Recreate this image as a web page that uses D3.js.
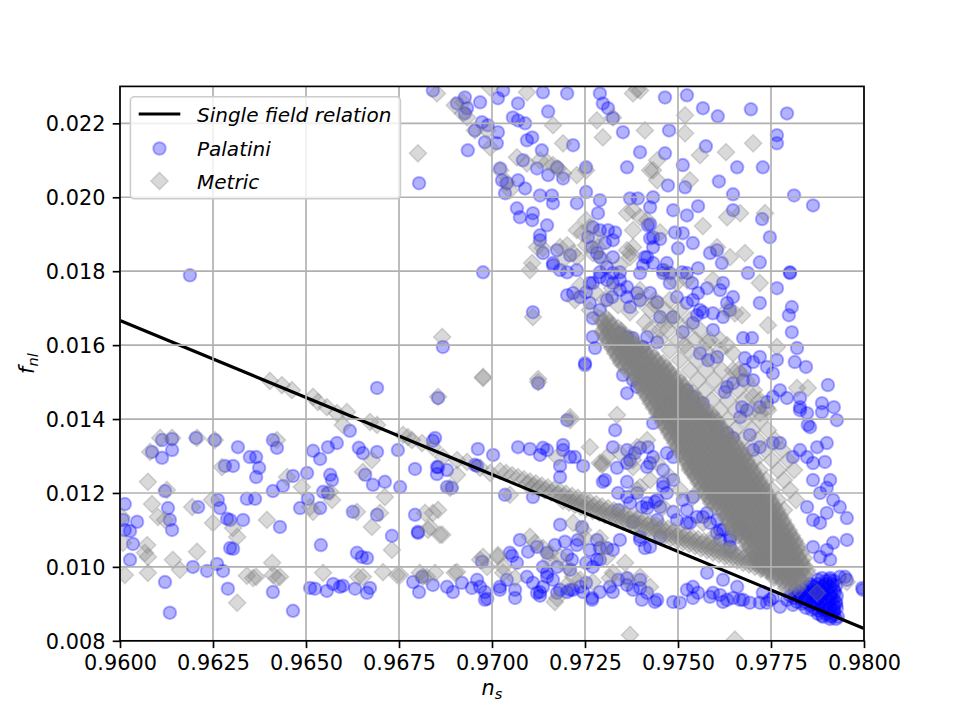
<!DOCTYPE html>
<html><head><meta charset="utf-8">
<script src="https://cdn.jsdelivr.net/npm/d3@7"></script>
<style>body{margin:0;background:#fff;}svg{display:block;font-family:"DejaVu Sans",sans-serif;}</style>
</head><body><svg id="chart" width="960" height="720"></svg>
<script>
const xTicks=[0.96,0.9625,0.965,0.9675,0.97,0.9725,0.975,0.9775,0.98];
const yTicks=[0.008,0.010,0.012,0.014,0.016,0.018,0.020,0.022];
const singleFieldNs=[0.96,0.965,0.97,0.975,0.98];
const singleFieldFnl=[0.016667,0.014583,0.0125,0.010417,0.008333];
const seriesNames=["Single field relation","Palatini","Metric"];

const palatiniLeft=[[.96188,.01789],[.96691,.01484],[.96113,.01343],[.96086,.01311],[.96140,.01346],[.96113,.01295],[.96140,.01316],[.96204,.01349],[.96255,.01343],[.96317,.01324],[.96349,.01297],[.96366,.01297],[.96282,.01273],[.96304,.01273],[.96374,.01268],[.96366,.01243],[.96411,.01343],[.96422,.01322],[.96411,.01205],[.96438,.01219],[.96465,.01246],[.96503,.01254],[.96519,.01314],[.96538,.01292],[.96559,.01324],[.96583,.01335],[.96565,.01249],[.96570,.01235],[.96546,.01203],[.96559,.01200],[.96618,.01368],[.96642,.01322],[.96653,.01308],[.96659,.01249],[.96691,.01311],[.96680,.01222],[.96712,.01230],[.96747,.01316],
[.96013,.01170],[.96008,.01127],[.96013,.01100],[.96027,.01097],[.96046,.01122],[.96035,.01062],[.96027,.01019],[.96121,.01205],[.96129,.01159],[.96134,.01127],[.96140,.01100],[.96210,.01162],[.96263,.01181],[.96269,.01159],[.96288,.01130],[.96296,.01127],[.96331,.01127],[.96341,.01184],[.96363,.01184],[.96430,.01108],[.96296,.01051],[.96304,.01049],[.96484,.01159],[.96505,.01184],[.96538,.01159],[.96540,.01059],[.96626,.01149],[.96691,.01141],[.96637,.01038],[.96650,.01027],[.96664,.01024],[.96731,.01084],
[.96121,.00959],[.96134,.00876],[.96196,.01000],[.96234,.00989],[.96261,.01008],[.96277,.00989],[.96290,.00941],[.96411,.00932],[.96465,.00881],[.96511,.00943],[.96524,.00941],[.96556,.00935],[.96573,.00954],[.96591,.00946],[.96599,.00949],[.96632,.00941],[.96664,.00930],[.96672,.00943]];

const palatiniMid=[[.96855,.01457],[.97124,.01497],[.97202,.01397],[.96847,.01349],[.96852,.01270],[.96852,.01251],[.96879,.01262],[.96879,.01216],[.96892,.01214],[.96962,.01319],[.97003,.01303],[.96960,.01273],[.97035,.01195],[.97070,.01324],[.97102,.01319],[.97137,.01322],[.97148,.01316],[.97129,.01303],[.97191,.01316],[.97183,.01273],[.97183,.01243],[.97110,.01189],[.97183,.01114],[.96841,.01341],[.96855,.01270],[.96793,.01265],[.96753,.01216],[.96954,.01276],[.97223,.01297],[.97245,.01273],[.97242,.01108],[.96793,.01141],[.96801,.01095],[.96801,.01092],
[.97075,.01073],[.97097,.01041],[.97121,.01054],[.97148,.01038],[.97169,.01059],[.97196,.01068],[.97228,.01059],[.97231,.01073],[.97048,.01038],[.97067,.01011],[.97137,.01000],[.97148,.00984],[.97175,.01000],[.97202,.01032],[.97215,.01019],[.97210,.00992],[.97253,.01011],[.97271,.01000],[.97282,.01019],[.97290,.01019],[.97054,.01030],[.96973,.01014],
[.96788,.00959],[.96804,.00932],[.96812,.00973],[.96841,.00951],[.96879,.00946],[.96895,.00932],[.96919,.00957],[.96946,.00943],[.96960,.00965],[.96968,.00946],[.96981,.00932],[.96981,.00911],[.96987,.00914],[.97021,.00946],[.97021,.00938],[.97040,.00965],[.97062,.00938],[.97062,.00916],[.97094,.00973],[.97110,.00957],[.97121,.00930],[.97129,.00932],[.97137,.00946],[.97148,.00973],[.97164,.00965],[.97175,.00930],[.97202,.00932],[.97218,.00938],[.97237,.00946],[.97245,.00932],[.97253,.00957],[.97269,.00916],[.97129,.00922],
[.96868,.01595],[.97110,.01689],[.97250,.01551],[.96976,.01797],[.96804,.02038]];

const palatiniLowerRight=[[.97290,.00932],[.97317,.00946],[.97325,.00932],[.97379,.00938],[.97398,.00943],[.97403,.00911],[.97438,.00905],[.97339,.00965],[.97363,.00970],[.97183,.00938],[.97210,.00938],[.97269,.00911],[.97363,.00951],[.97444,.00911],[.97487,.00905],[.97505,.00903],[.97540,.00916],[.97554,.00930],[.97594,.00930],[.97621,.00905],[.97648,.00916],[.97675,.00911],[.97693,.00903],[.97720,.00903],[.97728,.00930],[.97747,.00911],[.97774,.00892],[.97793,.00911],[.97809,.00897],[.97417,.00930],[.97524,.00938],[.97540,.00946],[.97578,.00984],[.97621,.00965],[.97659,.00946],[.97586,.00919],[.97613,.00924],[.97632,.00911],[.97667,.00911],[.97739,.00903],[.97755,.00916],[.97949,.00973],[.97995,.00943],[.97398,.00965],
[.97903,.01492],[.97887,.01443],[.97919,.01432],[.97927,.01397],[.97828,.01432],[.97847,.01416],[.97793,.01457],[.97774,.01478],[.97855,.01378],[.97900,.01335],[.97895,.01284],[.97874,.01324],[.97847,.01297],[.97863,.01281],[.97909,.01235],[.97900,.01214],[.97917,.01181],[.97935,.01162],[.97954,.01132],[.97863,.01235],[.97882,.01200],[.97847,.01162],[.97900,.01146],[.97882,.01119],[.97863,.01127],[.97954,.01073],[.97917,.01065],[.97900,.01046],[.97909,.01019],[.97935,.00973],[.97954,.00965],[.97863,.01054],[.97882,.01027],[.97997,.00938]];

const palatiniBandEdge=[[.97801,.01795],[.97766,.01754],[.97806,.01703],[.97798,.01681],[.97806,.01635],[.97820,.01592],[.97814,.01554],[.97844,.01541],[.97887,.01419],[.97849,.01384],[.97828,.01457],[.97828,.01424],[.97720,.01714],[.97688,.01795],[.97766,.01560],[.97755,.01524],[.97739,.01541],[.97720,.01568],[.97702,.01554],[.97699,.01619],[.97675,.01619],[.97680,.01565],[.97680,.01532],[.97675,.01505],[.97702,.01505],[.97755,.01460],[.97720,.01432],[.97739,.01446],[.97672,.01432],[.97685,.01424],[.97667,.01405],[.97632,.01487],[.97626,.01473],[.97648,.01497],[.97605,.01568],
[.97621,.01768],[.97613,.01749],[.97648,.01730],[.97632,.01714],[.97640,.01695],[.97621,.01676],[.97594,.01641],[.97567,.01689],[.97551,.01681],[.97594,.01686],[.97524,.01714],[.97540,.01722],[.97554,.01741],[.97578,.01754],[.97538,.01768],[.97524,.01795],[.97478,.01795],[.97460,.01795],[.97478,.01768],[.97497,.01730],[.97487,.01676],[.97513,.01635],[.97559,.01578],[.97581,.01559],[.97417,.01622],[.97444,.01608],[.97406,.01595],[.97379,.01619],[.97363,.01622],[.97344,.01632],[.97452,.01676],[.97444,.01716],[.97425,.01741],[.97398,.01722],[.97371,.01703],[.97363,.01730],[.97344,.01749],[.97325,.01768],[.97309,.01776],[.97290,.01784],[.97271,.01768],[.97253,.01743],[.97237,.01730],[.97202,.01735],[.97277,.01592],[.97250,.01546],
[.97331,.01370],[.97191,.01330],[.97210,.01297],[.97325,.01324],[.97363,.01316],[.97384,.01308],[.97419,.01324],[.97433,.01297],[.97470,.01308],[.97425,.01281],[.97363,.01281],[.97433,.01389],[.97452,.01416],[.97478,.01443],[.97524,.01478],[.97540,.01460],[.97567,.01443],[.97573,.01405],[.97605,.01378],[.97632,.01362],[.97648,.01349],[.97693,.01357],[.97702,.01316],[.97720,.01324],[.97755,.01335],[.97774,.01335],[.97809,.01297],[.97828,.01316],[.97559,.01695],[.97540,.01660],[.97352,.01519],[.97379,.01505],[.97390,.01487],[.97363,.01470],[.97271,.01622],[.97263,.01714],[.97271,.01673],[.97290,.01695],[.97309,.01722],[.97323,.01730],[.97344,.01776],[.97363,.01757],[.97390,.01741],[.97417,.01838],[.97433,.01822],[.97137,.01849],[.97164,.01816],[.97183,.01803],[.97218,.01741],[.97263,.01768],
[.97417,.01270],[.97460,.01262],[.97487,.01297],[.97487,.01235],[.97460,.01216],[.97417,.01173],[.97452,.01162],[.97487,.01149],[.97524,.01154],[.97497,.01127],[.97532,.01119],[.97551,.01135],[.97578,.01146],[.97605,.01127],[.97621,.01100],[.97640,.01081],[.97667,.01108],[.97685,.01092],[.97605,.01092],[.97613,.01073],[.97640,.01054],[.97398,.01073],[.97425,.01054],[.97452,.01081],[.97298,.01230],[.97339,.01200],[.97371,.01173],[.97403,.01162],[.97339,.01154],[.97379,.01122],[.97444,.01181],[.97460,.01227],[.97470,.01200],[.97513,.01181],[.97540,.01189],[.97524,.01119],[.97567,.01135],[.97586,.01119],[.97613,.01100],[.97640,.01073],[.97304,.01235],[.97398,.01322],[.97336,.01268],[.97371,.01289],[.97363,.01230],[.97390,.01200],[.97363,.01189],[.97417,.01159],[.97438,.01176],[.97444,.01127],[.97344,.01073],[.97325,.01046],[.97309,.01051],[.97282,.01073],[.97290,.01051],[.97263,.01046],[.97411,.01051],[.97398,.01081]];

const palatiniUpper=[[.97465,.02270],[.97524,.02276],[.97567,.02241],[.97607,.02219],[.97696,.02238],[.97793,.02227],[.97476,.02181],[.97766,.02168],[.97766,.02146],[.97575,.02138],[.97513,.02087],[.97465,.02119],[.97398,.02122],[.97659,.02081],[.97728,.02081],[.97610,.02043],[.97648,.02008],[.97812,.02005],[.97863,.01978],[.97648,.01965],[.97726,.01941],[.97747,.01892],[.97519,.02027],[.97524,.01951],[.97554,.01976],[.97473,.02032],[.97487,.01965],[.97433,.02000],[.97425,.01973],[.97425,.01927],[.97433,.01892],[.97452,.01887],[.97492,.01905],[.97513,.01903],[.97540,.01876],[.97500,.01862],[.97586,.01849],[.97605,.01857],[.97618,.01822],[.97720,.01824],[.97801,.01797],[.97554,.01808],[.97470,.01822],[.97460,.01803],[.97511,.01797],
[.96841,.02289],[.96906,.02254],[.96927,.02270],[.96933,.02241],[.96927,.02227],[.96968,.02257],[.97016,.02268],[.97030,.02289],[.97070,.02254],[.97137,.02284],[.97151,.02232],[.97202,.02281],[.96954,.02181],[.96973,.02203],[.96989,.02195],[.96981,.02149],[.97016,.02176],[.97013,.02146],[.97056,.02216],[.97070,.02208],[.97089,.02200],[.97094,.02154],[.97108,.02162],[.96935,.02127],[.97083,.02100],[.97121,.02078],[.97134,.02127],[.97151,.02060],[.97175,.02081],[.97191,.02051],[.97218,.02141],[.97253,.02081],[.97022,.02078],[.97027,.02046],[.97040,.02038],[.97035,.02011],[.97070,.02046],[.97089,.02024],[.97129,.02005],[.97161,.02005],[.97164,.01984],[.97228,.01984],[.97253,.02014],[.97067,.01970],[.97075,.01946],[.97110,.01957],[.97108,.01938],[.97148,.01924],[.97129,.01897],[.97129,.01884],[.97175,.01857],[.97210,.01843],[.97164,.01822],[.97202,.01797],[.97228,.01803],[.97290,.02281],[.97298,.02254],[.97312,.02241],[.97325,.02214],[.97352,.02176],[.97363,.02081],[.97290,.01992],[.97371,.01997],[.97392,.01997],[.97285,.01957],[.97271,.01919],[.97290,.01911],[.97312,.01911],[.97331,.01905],[.97325,.01884],[.97304,.01876],[.97258,.01892],[.97269,.01865],[.97282,.01849],[.97290,.01838],[.97325,.01838],[.97309,.01811],[.97325,.01795],[.97344,.01797],[.97290,.01797],[.97419,.01924],[.97425,.01889],[.97433,.01865],[.97411,.01838],[.97406,.01816],[.97398,.01795]];

const palatiniCluster=[[.97887,.00970],[.97909,.00970],[.97898,.00962],[.97919,.00962],[.97855,.00954],[.97876,.00954],[.97898,.00954],[.97917,.00954],[.97844,.00946],[.97865,.00946],[.97887,.00946],[.97909,.00946],[.97814,.00938],[.97836,.00938],[.97857,.00938],[.97879,.00938],[.97900,.00938],[.97919,.00938],[.97825,.00930],[.97847,.00930],[.97868,.00930],[.97890,.00930],[.97911,.00930],[.97801,.00922],[.97822,.00922],[.97844,.00922],[.97865,.00922],[.97887,.00922],[.97909,.00922],[.97927,.00922],[.97831,.00914],[.97852,.00914],[.97874,.00914],[.97895,.00914],[.97917,.00914],[.97820,.00905],[.97841,.00905],[.97863,.00905],[.97884,.00905],[.97906,.00905],[.97925,.00905],[.97855,.00897],[.97876,.00897],[.97898,.00897],[.97919,.00897],[.97844,.00889],[.97865,.00889],[.97887,.00889],[.97909,.00889],[.97927,.00889],[.97879,.00881],[.97900,.00881],[.97919,.00881],[.97876,.00873],[.97898,.00873],[.97919,.00873],[.97890,.00865],[.97911,.00865],[.97930,.00865],[.97909,.00859],[.97925,.00859],
[.97876,.00965],[.97909,.00965],[.97860,.00949],[.97892,.00949],[.97925,.00949],[.97825,.00932],[.97857,.00932],[.97890,.00932],[.97922,.00932],[.97812,.00916],[.97844,.00916],[.97876,.00916],[.97909,.00916],[.97833,.00900],[.97865,.00900],[.97898,.00900],[.97925,.00900],[.97860,.00884],[.97892,.00884],[.97919,.00884],[.97887,.00868],[.97914,.00868]];

const metricScattered=[[.96403,.01503],[.96435,.01492],[.96462,.01478],[.96519,.01460],[.96532,.01446],[.96556,.01432],[.96583,.01416],[.96610,.01419],[.96599,.01384],[.96672,.01392],[.96691,.01384],[.96761,.01357],[.96774,.01351],[.96785,.01343],[.96812,.01335],[.96841,.01324],[.96868,.01297],[.96906,.01289],[.96933,.01284],[.96976,.01514],[.97124,.01508],[.96968,.01268],[.96995,.01254],[.96081,.01311],[.96108,.01349],[.96140,.01349],[.96207,.01349],[.96255,.01343],[.96075,.01230],[.96086,.01170],[.96102,.01135],[.96121,.01127],[.96126,.01208],[.96005,.01135],[.96008,.01065],[.96073,.01059],[.96067,.01038],[.96075,.01027],[.96013,.00978],[.96075,.00984],[.96142,.01019],[.96161,.00992],[.96194,.01162],[.96207,.01041],[.96247,.01181],[.96250,.01119],[.96274,.01270],[.96304,.01105],[.96315,.01081],[.96315,.00903],[.96341,.00976],[.96358,.00970],[.96366,.00973],[.96395,.01127],[.96409,.01011],[.96411,.00978],[.96422,.00970],[.96430,.00973],[.96422,.01343],[.96449,.01243],[.96489,.01216],[.96511,.01162],[.96519,.01149],[.96546,.00984],[.96565,.01203],[.96570,.01181],[.96637,.01149],[.96640,.00973],[.96653,.00973],[.96653,.01257],[.96677,.01289],[.96677,.01108],[.96707,.00986],[.96699,.01146],[.96712,.01189],[.96731,.01046],[.96745,.00978],[.96820,.01146],[.96855,.01154],[.96860,.01087],[.96828,.01100],[.96814,.00973],[.96847,.00984],[.96900,.00984],[.96906,.01249],[.96887,.01214],[.96976,.01027],[.97016,.01027],[.97030,.01000],[.97062,.00970],[.97102,.01081],[.97116,.01065],[.97137,.01051],[.97156,.01038],[.97175,.00916],[.97175,.01297],[.97048,.01195],[.96841,.01146],[.96833,.01108],[.96866,.01087],[.96753,.00978],[.96806,.00984],[.96825,.00973],[.96906,.00986],[.96968,.01019],[.96987,.01000],[.97016,.01032],[.97030,.00984],[.97156,.01019],[.97218,.01119],[.97245,.01100],[.97290,.01078],[.97298,.01054],[.97309,.01027],[.97183,.01027],[.97202,.01000],[.97218,.00973],[.97237,.00965],[.97169,.00905],[.97290,.01281],[.97309,.01297],[.97379,.01289],[.97398,.01216],[.97371,.00816],[.97325,.00984],[.97363,.00965],[.97398,.00973],[.97425,.00946],[.97653,.00803],[.97954,.00959],
[.96852,.02281],[.96900,.02249],[.96922,.02257],[.96922,.02227],[.96933,.02216],[.96954,.02181],[.96987,.02181],[.96995,.02135],[.96801,.02119],[.97022,.02073],[.97040,.02041],[.97048,.02019],[.97067,.02108],[.97094,.02092],[.97129,.02100],[.97148,.02095],[.97164,.02087],[.97177,.02078],[.97191,.02065],[.97164,.02195],[.97191,.02146],[.97102,.01803],[.97121,.01865],[.97137,.01862],[.97183,.01865],[.97202,.01870],[.97218,.01849],[.97228,.02060],[.97253,.02073],[.97282,.02208],[.97298,.02162],[.97325,.02216],[.97411,.02181],[.97379,.02281],[.97398,.02289],[.97253,.01938],[.97263,.01919],[.97282,.01892],[.97285,.01865],[.97253,.01870],[.97242,.01903],[.97228,.01911],[.97363,.01957],[.97379,.01965],[.97398,.01946],[.97417,.01938],[.97379,.01911],[.97363,.01857],[.97379,.01865],[.97371,.01849],[.97433,.02073],[.97444,.02100],[.96995,.02297],[.97094,.02284],[.97519,.02222],[.97519,.02173],[.97629,.02122],[.97702,.02146],[.97559,.02114],[.97425,.02073],[.97444,.02046],[.97532,.02046],[.97567,.01922],[.97632,.01946],[.97667,.01957],[.97734,.01957],[.97452,.01905],[.97605,.01865],[.97640,.01838],[.97680,.01849],[.97390,.02292],[.97720,.01768],[.97742,.01654],[.97766,.01595],[.97820,.01484],[.97849,.01484],[.97336,.01411],[.97210,.01405],[.97296,.01276],[.97263,.01324],[.97594,.01776],[.97632,.01695],[.97653,.01686],[.97672,.01681],[.97578,.01608],[.97613,.01614],[.97632,.01600],[.97648,.01578],[.97524,.01776],[.97497,.01768],[.97470,.01795],[.97648,.01532],[.97667,.01524],[.97702,.01460],[.97720,.01416],[.97739,.01430],[.97108,.01822],[.97110,.01676],[.96866,.01622],[.96976,.01511],[.96855,.01460],[.97124,.01500],[.97210,.01397],[.97191,.01830],[.97228,.01838],[.97271,.01849],[.97298,.01830],[.97344,.01816],[.97371,.01838],
[.97298,.01281],[.97344,.01308],[.97390,.01324],[.97417,.01343],[.97379,.01270],[.97444,.01281],[.97478,.01243],[.97505,.01208],[.97540,.01189],[.97567,.01119],[.97594,.01081],[.97640,.01046],[.97460,.01162],[.97390,.01208],[.97425,.01235],[.97532,.01262],[.97250,.01078],[.97358,.01011],[.97317,.00970],[.97271,.00959],[.97202,.00951],[.97874,.00930],
[.97237,.01762],[.97277,.01743],[.97304,.01722],[.97339,.01708],[.97371,.01689],[.97411,.01662],[.97452,.01641],[.97263,.01695],[.97223,.01722],[.97323,.01754],[.97398,.01749],[.97438,.01708],[.97478,.01668],[.97519,.01600]];

const metricLineBand=[[.97022,.01259],[.97038,.01254],[.97054,.01248],[.97070,.01243],[.97086,.01237],[.97102,.01231],[.97118,.01226],[.97134,.01220],[.97150,.01215],[.97167,.01209],[.97183,.01204],[.97199,.01198],[.97215,.01192],[.97231,.01187],[.97247,.01181],[.97263,.01175],[.97280,.01170],[.97296,.01164],[.97312,.01159],[.97328,.01153],[.97344,.01148],[.97360,.01142],[.97376,.01136],[.97392,.01131],[.97409,.01125],[.97425,.01119],[.97441,.01114],[.97457,.01108],[.97473,.01103],[.97489,.01097],[.97505,.01091],[.97521,.01086],[.97538,.01080],[.97554,.01075],[.97570,.01069],[.97586,.01064],[.97602,.01058],[.97618,.01052],[.97634,.01047],[.97650,.01041],[.97667,.01035],[.97683,.01030],[.97699,.01024],[.97715,.01019],[.97731,.01013],[.97747,.01008],
[.97191,.01179],[.97207,.01174],[.97223,.01168],[.97239,.01162],[.97253,.01157],[.97271,.01151],[.97288,.01146],[.97304,.01140],[.97320,.01134],[.97336,.01129],[.97352,.01123],[.97368,.01118],[.97384,.01112],[.97400,.01107],[.97417,.01101],[.97433,.01095],[.97449,.01089],[.97465,.01084],[.97481,.01078],[.97497,.01073],[.97513,.01067],[.97530,.01062],[.97546,.01056],[.97562,.01050],[.97578,.01045],[.97594,.01039],[.97610,.01034],[.97626,.01028],[.97642,.01022],[.97659,.01017],[.97675,.01011],[.97691,.01006],[.97707,.01000],[.97723,.00994],[.97739,.00989],
[.97094,.01224],[.97110,.01218],[.97126,.01212],[.97142,.01207],[.97159,.01201],[.97175,.01195],[.97191,.01190],[.97207,.01184],[.97223,.01179],[.97239,.01173],[.97255,.01168],[.97271,.01162],[.97288,.01156],[.97304,.01151],[.97320,.01145],[.97336,.01139],[.97352,.01134],[.97368,.01128],[.97384,.01123],[.97400,.01117],[.97417,.01112],[.97433,.01106],[.97449,.01100],[.97465,.01095],[.97481,.01089],[.97497,.01084],[.97513,.01078],[.97530,.01072],[.97546,.01067],[.97562,.01061],[.97578,.01056],[.97594,.01050],[.97610,.01044],[.97626,.01039],[.97642,.01033],[.97659,.01028],[.97675,.01022],[.97691,.01016],[.97707,.01011],[.97723,.01005],[.97739,.01000]];

// main dense band of Metric points, read row by row: one f_nl value per row and the n_s values seen along it
const metricBandFnl=[.01673,.01659,.01646,.01632,.01619,.01605,.01592,.01578,.01565,.01551,.01538,.01524,.01511,.01497,.01484,.01470,.01457,.01443,.01430,.01416,.01403,.01389,.01376,.01362,.01349,.01335,.01322,.01308,.01295,.01281,.01268,.01254,.01241,.01227,.01214,.01200,.01187,.01173,.01160,.01146,.01132,.01119,.01105,.01092,.01078,.01065,.01051,.01038,.01024,.01011,.00997,.00984,.00970,.00957,.00943];
const metricBandNs=[
[.97290,.97306],[.97298,.97314],[.97306,.97323,.97339],[.97298,.97314,.97331,.97347],[.97306,.97323,.97339,.97355,.97371],[.97314,.97331,.97347,.97363,.97379],
[.97323,.97339,.97355,.97371,.97387,.97403],[.97331,.97347,.97363,.97379,.97395,.97411,.97427],[.97339,.97355,.97371,.97387,.97403,.97419,.97435],[.97347,.97363,.97379,.97395,.97411,.97427,.97444,.97460],
[.97371,.97387,.97403,.97419,.97435,.97452,.97468],[.97379,.97395,.97411,.97427,.97444,.97460,.97476],[.97387,.97403,.97419,.97435,.97452,.97468,.97484,.97500],[.97395,.97411,.97427,.97444,.97460,.97476,.97492,.97508],
[.97403,.97419,.97435,.97452,.97468,.97484,.97500,.97516],[.97411,.97427,.97444,.97460,.97476,.97492,.97508,.97524,.97540],[.97419,.97435,.97452,.97468,.97484,.97500,.97516,.97532,.97548],[.97427,.97444,.97460,.97476,.97492,.97508,.97524,.97540,.97556],
[.97435,.97452,.97468,.97484,.97500,.97516,.97532,.97548,.97564],[.97444,.97460,.97476,.97492,.97508,.97524,.97540,.97556,.97573,.97589],[.97452,.97468,.97484,.97500,.97516,.97532,.97548,.97564,.97581,.97597],[.97460,.97476,.97492,.97508,.97524,.97540,.97556,.97573,.97589,.97605],
[.97468,.97484,.97500,.97516,.97532,.97548,.97564,.97581,.97597,.97613],[.97476,.97492,.97508,.97524,.97540,.97556,.97573,.97589,.97605,.97621],[.97484,.97500,.97516,.97532,.97548,.97564,.97581,.97597,.97613,.97629,.97645],[.97492,.97508,.97524,.97540,.97556,.97573,.97589,.97605,.97621,.97637,.97653],
[.97500,.97516,.97532,.97548,.97564,.97581,.97597,.97613,.97629,.97645,.97661],[.97508,.97524,.97540,.97556,.97573,.97589,.97605,.97621,.97637,.97653,.97669],[.97516,.97532,.97548,.97564,.97581,.97597,.97613,.97629,.97645,.97661,.97677],[.97524,.97540,.97556,.97573,.97589,.97605,.97621,.97637,.97653,.97669,.97685],
[.97532,.97548,.97564,.97581,.97597,.97613,.97629,.97645,.97661,.97677,.97693],[.97540,.97556,.97573,.97589,.97605,.97621,.97637,.97653,.97669,.97685,.97702],[.97548,.97564,.97581,.97597,.97613,.97629,.97645,.97661,.97677,.97693,.97710],[.97556,.97573,.97589,.97605,.97621,.97637,.97653,.97669,.97685,.97702,.97718],
[.97564,.97581,.97597,.97613,.97629,.97645,.97661,.97677,.97693,.97710,.97726],[.97573,.97589,.97605,.97621,.97637,.97653,.97669,.97685,.97702,.97718,.97734],[.97581,.97597,.97613,.97629,.97645,.97661,.97677,.97693,.97710,.97726,.97742],[.97589,.97605,.97621,.97637,.97653,.97669,.97685,.97702,.97718,.97734,.97750],
[.97613,.97629,.97645,.97661,.97677,.97693,.97710,.97726,.97742,.97758],[.97621,.97637,.97653,.97669,.97685,.97702,.97718,.97734,.97750,.97766],[.97629,.97645,.97661,.97677,.97693,.97710,.97726,.97742,.97758,.97774],[.97637,.97653,.97669,.97685,.97702,.97718,.97734,.97750,.97766,.97782],
[.97645,.97661,.97677,.97693,.97710,.97726,.97742,.97758,.97774,.97790],[.97653,.97669,.97685,.97702,.97718,.97734,.97750,.97766,.97782,.97798],[.97677,.97693,.97710,.97726,.97742,.97758,.97774,.97790,.97806],[.97685,.97702,.97718,.97734,.97750,.97766,.97782,.97798,.97814],
[.97693,.97710,.97726,.97742,.97758,.97774,.97790,.97806,.97822],[.97702,.97718,.97734,.97750,.97766,.97782,.97798,.97814,.97831],[.97710,.97726,.97742,.97758,.97774,.97790,.97806,.97822,.97839],[.97718,.97734,.97750,.97766,.97782,.97798,.97814,.97831],
[.97726,.97742,.97758,.97774,.97790,.97806,.97822,.97839],[.97750,.97766,.97782,.97798,.97814,.97831,.97847],[.97758,.97774,.97790,.97806,.97822],[.97782,.97798,.97814,.97831],[.97790,.97806,.97822]];

// in-between rows of the same dense band
const metricBandFnl2=[.01666,.01653,.01639,.01626,.01612,.01599,.01585,.01572,.01558,.01545,.01531,.01518,.01504,.01491,.01477,.01464,.01450,.01437,.01423,.01409,.01396,.01382,.01369,.01355,.01342,.01328,.01315,.01301,.01288,.01274,.01261,.01247,.01234,.01220,.01207,.01193,.01180,.01166,.01153,.01139,.01126,.01112,.01099,.01085,.01072,.01058,.01045,.01031,.01018,.01004,.00991,.00977,.00964];
const metricBandNs2=[
[.97298,.97314],[.97306,.97323],[.97298,.97314,.97331,.97347],[.97306,.97323,.97339,.97355],[.97314,.97331,.97347,.97363,.97379],[.97323,.97339,.97355,.97371,.97387],
[.97331,.97347,.97363,.97379,.97395,.97411],[.97339,.97355,.97371,.97387,.97403,.97419],[.97347,.97363,.97379,.97395,.97411,.97427,.97444],[.97355,.97371,.97387,.97403,.97419,.97435,.97452],
[.97363,.97379,.97395,.97411,.97427,.97444,.97460,.97476],[.97387,.97403,.97419,.97435,.97452,.97468,.97484],[.97395,.97411,.97427,.97444,.97460,.97476,.97492],[.97403,.97419,.97435,.97452,.97468,.97484,.97500,.97516],
[.97411,.97427,.97444,.97460,.97476,.97492,.97508,.97524],[.97419,.97435,.97452,.97468,.97484,.97500,.97516,.97532],[.97427,.97444,.97460,.97476,.97492,.97508,.97524,.97540,.97556],[.97435,.97452,.97468,.97484,.97500,.97516,.97532,.97548,.97564],
[.97444,.97460,.97476,.97492,.97508,.97524,.97540,.97556,.97573],[.97452,.97468,.97484,.97500,.97516,.97532,.97548,.97564,.97581],[.97460,.97476,.97492,.97508,.97524,.97540,.97556,.97573,.97589,.97605],[.97468,.97484,.97500,.97516,.97532,.97548,.97564,.97581,.97597,.97613],
[.97476,.97492,.97508,.97524,.97540,.97556,.97573,.97589,.97605,.97621],[.97484,.97500,.97516,.97532,.97548,.97564,.97581,.97597,.97613,.97629],[.97492,.97508,.97524,.97540,.97556,.97573,.97589,.97605,.97621,.97637],[.97500,.97516,.97532,.97548,.97564,.97581,.97597,.97613,.97629,.97645],
[.97508,.97524,.97540,.97556,.97573,.97589,.97605,.97621,.97637,.97653,.97669],[.97516,.97532,.97548,.97564,.97581,.97597,.97613,.97629,.97645,.97661,.97677],[.97524,.97540,.97556,.97573,.97589,.97605,.97621,.97637,.97653,.97669,.97685],[.97532,.97548,.97564,.97581,.97597,.97613,.97629,.97645,.97661,.97677,.97693],
[.97540,.97556,.97573,.97589,.97605,.97621,.97637,.97653,.97669,.97685,.97702],[.97548,.97564,.97581,.97597,.97613,.97629,.97645,.97661,.97677,.97693,.97710],[.97556,.97573,.97589,.97605,.97621,.97637,.97653,.97669,.97685,.97702,.97718],[.97564,.97581,.97597,.97613,.97629,.97645,.97661,.97677,.97693,.97710,.97726],
[.97573,.97589,.97605,.97621,.97637,.97653,.97669,.97685,.97702,.97718,.97734],[.97581,.97597,.97613,.97629,.97645,.97661,.97677,.97693,.97710,.97726,.97742],[.97589,.97605,.97621,.97637,.97653,.97669,.97685,.97702,.97718,.97734,.97750],[.97597,.97613,.97629,.97645,.97661,.97677,.97693,.97710,.97726,.97742,.97758],
[.97621,.97637,.97653,.97669,.97685,.97702,.97718,.97734,.97750,.97766],[.97629,.97645,.97661,.97677,.97693,.97710,.97726,.97742,.97758,.97774],[.97637,.97653,.97669,.97685,.97702,.97718,.97734,.97750,.97766,.97782],[.97645,.97661,.97677,.97693,.97710,.97726,.97742,.97758,.97774,.97790],
[.97653,.97669,.97685,.97702,.97718,.97734,.97750,.97766,.97782,.97798],[.97661,.97677,.97693,.97710,.97726,.97742,.97758,.97774,.97790,.97806],[.97685,.97702,.97718,.97734,.97750,.97766,.97782,.97798,.97814],[.97693,.97710,.97726,.97742,.97758,.97774,.97790,.97806,.97822],
[.97702,.97718,.97734,.97750,.97766,.97782,.97798,.97814],[.97710,.97726,.97742,.97758,.97774,.97790,.97806,.97822],[.97718,.97734,.97750,.97766,.97782,.97798,.97814,.97831],[.97726,.97742,.97758,.97774,.97790,.97806,.97822,.97839],
[.97750,.97766,.97782,.97798,.97814,.97831,.97847],[.97758,.97774,.97790,.97806,.97822,.97839],[.97782,.97798,.97814,.97831]];

const metricSideBand=[[.97398,.01722],[.97438,.01722],[.97478,.01722],[.97425,.01695],[.97465,.01695],[.97505,.01695],[.97452,.01668],[.97492,.01668],[.97532,.01668],[.97425,.01641],[.97473,.01641],[.97519,.01641],[.97559,.01641],[.97452,.01614],[.97500,.01614],[.97546,.01614],[.97586,.01614],[.97478,.01586],[.97527,.01586],[.97573,.01586],[.97613,.01586],[.97505,.01559],[.97551,.01559],[.97597,.01559],[.97532,.01532],[.97575,.01532],[.97618,.01532],[.97661,.01532],[.97554,.01505],[.97597,.01505],[.97640,.01505],[.97683,.01505],[.97573,.01478],[.97618,.01478],[.97661,.01478],[.97704,.01478],[.97591,.01451],[.97634,.01451],[.97677,.01451],[.97720,.01451],[.97613,.01424],[.97656,.01424],[.97699,.01424],[.97742,.01424],[.97634,.01397],[.97677,.01397],[.97720,.01397],[.97653,.01370],[.97699,.01370],[.97742,.01370],[.97672,.01343],[.97715,.01343],[.97761,.01343],[.97688,.01316],[.97734,.01316],[.97780,.01316],[.97707,.01289],[.97753,.01289],[.97796,.01289],[.97720,.01262],[.97769,.01262],[.97812,.01262],[.97736,.01235],[.97785,.01235],[.97753,.01208],[.97801,.01208],[.97769,.01181],[.97817,.01181],[.97785,.01154]];

const metricMainBand=[...metricBandFnl.flatMap((f,i)=>metricBandNs[i].map(n=>[n,f])),...metricBandFnl2.flatMap((f,i)=>metricBandNs2[i].map(n=>[n,f]))];
const palatini=[...palatiniLeft,...palatiniMid,...palatiniLowerRight,...palatiniBandEdge,...palatiniUpper,...palatiniCluster];
const metric=[...metricScattered,...metricSideBand,...metricLineBand,...metricMainBand];

const svg=d3.select('#chart');
const L=120,R=864,T=86.4,B=640.8;
const x=d3.scaleLinear().domain([0.96,0.98]).range([L,R]);
const y=d3.scaleLinear().domain([0.008,0.023]).range([B,T]);
const FS=20.8;
svg.append('rect').attr('width',960).attr('height',720).attr('fill','#fff');
svg.append('defs').append('clipPath').attr('id','clip').append('rect').attr('x',L).attr('y',T).attr('width',R-L).attr('height',B-T);
const plot=svg.append('g').attr('clip-path','url(#clip)');

const blue='#0000ff', grey='#808080';
plot.append('g').selectAll('circle').data(palatini).join('circle')
  .attr('cx',d=>x(d[0])).attr('cy',d=>y(d[1])).attr('r',6.25)
  .attr('fill',blue).attr('fill-opacity',0.3).attr('stroke',blue).attr('stroke-opacity',0.3).attr('stroke-width',2);
const dh=8.6;
const diamond=`M0,${-dh}L${dh},0L0,${dh}L${-dh},0Z`;
plot.append('g').selectAll('path').data(metric).join('path')
  .attr('d',diamond).attr('transform',d=>`translate(${x(d[0])},${y(d[1])})`)
  .attr('fill',grey).attr('fill-opacity',0.3).attr('stroke',grey).attr('stroke-opacity',0.3).attr('stroke-width',1.5);

const grid=svg.append('g').attr('stroke','#b0b0b0').attr('stroke-width',1.67);
grid.selectAll('.gx').data(xTicks).join('line').attr('x1',d=>x(d)).attr('x2',d=>x(d)).attr('y1',T).attr('y2',B);
grid.selectAll('.gy').data(yTicks).join('line').attr('y1',d=>y(d)).attr('y2',d=>y(d)).attr('x1',L).attr('x2',R);

const lineData=singleFieldNs.map((v,i)=>[v,singleFieldFnl[i]]);
plot.append('path').datum(lineData).attr('d',d3.line().x(d=>x(d[0])).y(d=>y(d[1])))
  .attr('fill','none').attr('stroke','#000').attr('stroke-width',3.1);

const xAxis=svg.append('g').attr('transform',`translate(0,${B})`)
  .call(d3.axisBottom(x).tickValues(xTicks).tickFormat(d3.format('.4f')).tickSize(7.3).tickPadding(7.6));
const yAxis=svg.append('g').attr('transform',`translate(${L},0)`)
  .call(d3.axisLeft(y).tickValues(yTicks).tickFormat(d3.format('.3f')).tickSize(7.3).tickPadding(7.3));
[xAxis,yAxis].forEach(a=>{a.select('.domain').remove();a.selectAll('line').attr('stroke','#000').attr('stroke-width',1.67);
  a.selectAll('text').attr('font-size',FS).attr('font-family','DejaVu Sans').attr('fill','#000');});
yAxis.selectAll('text').attr('dy','0.36em');
svg.append('rect').attr('x',L).attr('y',T).attr('width',R-L).attr('height',B-T).attr('fill','none').attr('stroke','#000').attr('stroke-width',1.67);

const xl=svg.append('text').attr('x',(L+R)/2).attr('y',695).attr('text-anchor','middle').attr('font-size',FS).attr('font-style','italic');
xl.append('tspan').text('n');xl.append('tspan').attr('font-size',FS*0.7).attr('dy',4).text('s');
const yl=svg.append('text').attr('transform',`translate(34,${(T+B)/2}) rotate(-90)`).attr('text-anchor','middle').attr('font-size',FS).attr('font-style','italic');
yl.append('tspan').text('f');yl.append('tspan').attr('font-size',FS*0.7).attr('dy',4).text('nl');

const lg=svg.append('g');
lg.append('rect').attr('x',130.4).attr('y',96.8).attr('width',270).attr('height',102).attr('rx',4)
  .attr('fill','#fff').attr('fill-opacity',0.8).attr('stroke','#cccccc').attr('stroke-width',1.6);
const rows=[114,148.5,181];
lg.append('line').attr('x1',138.7).attr('x2',180.3).attr('y1',rows[0]).attr('y2',rows[0]).attr('stroke','#000').attr('stroke-width',3.1);
lg.append('circle').attr('cx',159.5).attr('cy',rows[1]).attr('r',6.25).attr('fill',blue).attr('fill-opacity',0.3).attr('stroke',blue).attr('stroke-opacity',0.3).attr('stroke-width',2);
lg.append('path').attr('d',diamond).attr('transform',`translate(159.5,${rows[2]})`).attr('fill',grey).attr('fill-opacity',0.3).attr('stroke',grey).attr('stroke-opacity',0.3).attr('stroke-width',1.5);
lg.selectAll('text.lab').data(seriesNames).join('text').attr('class','lab')
  .attr('x',197).attr('y',(d,i)=>rows[i]+7.5).attr('font-size',20).attr('font-style','italic').text(d=>d);
</script></body></html>
